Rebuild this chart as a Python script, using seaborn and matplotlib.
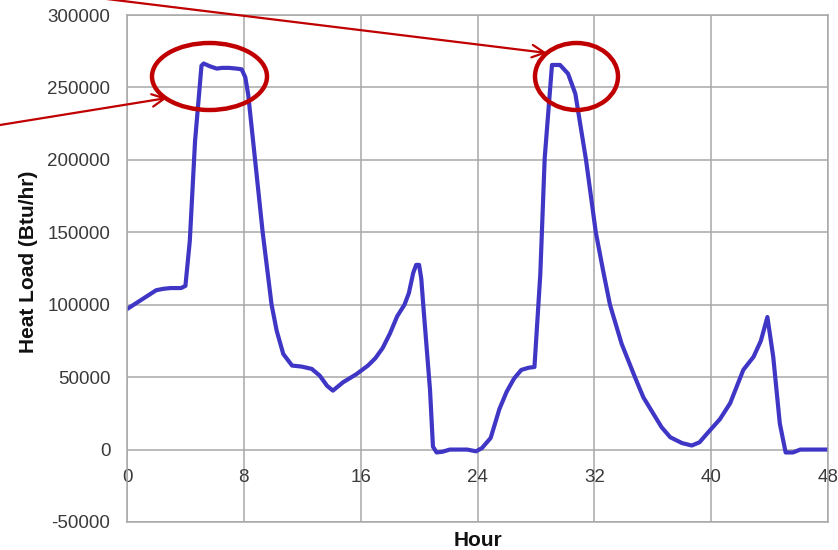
import numpy as np
import pandas as pd
import matplotlib
matplotlib.use("Agg")
import matplotlib.pyplot as plt
from matplotlib.patches import Ellipse
import seaborn as sns

# ---- data ----
hours = [0, 1, 2, 2.5, 3, 3.7, 4.0, 4.3, 4.66, 5.1, 5.25, 5.7, 6.15, 6.5, 7.0, 7.5,
         7.85, 8.1, 8.3, 8.77, 9.29, 9.9, 10.25, 10.7, 11.3, 11.95, 12.65, 13.2, 13.7,
         14.1, 14.8, 15.7, 16.5, 17.0, 17.5, 18.0, 18.5, 19.0, 19.3,
         19.6, 19.8, 20.0, 20.15, 20.3, 20.75, 20.95, 21.2, 21.6, 22.1, 23.3, 23.9, 24.3,
         24.9, 25.5, 26.0, 26.5, 27.0, 27.5, 27.9, 28.3, 28.6, 29.1, 29.65, 30.2,
         30.7, 31.43, 32.1, 32.6, 33.07, 33.87, 34.78, 35.36, 36.05, 36.6, 37.2, 38.0, 38.67,
         39.2, 39.7, 40.6, 41.3, 42.2, 42.9, 43.4, 43.85, 44.25, 44.7, 45.1, 45.6,
         46.1, 48.0]
heat_load = [97000, 103500, 110000, 111000, 111500, 111500, 113000, 144000, 213000,
             265000, 266500, 264500, 263000, 263500, 263500, 263000, 262500, 257000,
             245000, 200000, 150000, 100000, 82000, 66000, 58000, 57300, 55700, 51000,
             44000, 40700, 46500, 52000, 58000, 63000, 70000, 80000,
             92000, 100000, 108000, 122000, 127500, 127500, 118000, 98000, 41000, 2000,
             -2000, -1500, 0, 0, -1200, 1000, 8000, 28000, 40000, 49000, 55000, 56500,
             57000, 121000, 201000, 265500, 265500, 259500, 245600, 200000, 150000,
             123600, 100000, 73000, 50000, 36000, 24600, 15500, 8500, 4500, 2800, 5000, 10800,
             21000, 32000, 55000, 64000, 75000, 91500, 64000, 18000, -2000, -2000,
             0, 0]

x_ticks = [0, 8, 16, 24, 32, 40, 48]
y_ticks = [-50000, 0, 50000, 100000, 150000, 200000, 250000, 300000]
y_tick_labels = ["-50000", "0", "50000", "100000", "150000", "200000", "250000", "300000"]

df = pd.DataFrame({"Hour": hours, "Heat Load": heat_load})

sns.set_style("white")
plt.rcParams["font.family"] = ["Liberation Sans", "DejaVu Sans"]

fig = plt.figure(figsize=(8.38, 5.5), dpi=100)
ax = fig.add_axes([127 / 838, 28 / 550, 701 / 838, 507 / 550])

grid_c = "#a8a8a8"
line_c = "#3f36c6"
red_c = "#c00000"

sns.lineplot(data=df, x="Hour", y="Heat Load", ax=ax, color=line_c, linewidth=3.0,
             estimator=None, sort=False)
for l in ax.lines:
    l.set_solid_joinstyle("round")
    l.set_solid_capstyle("round")

ax.set_xlim(0, 48)
ax.set_ylim(-50000, 300000)
ax.set_xticks(x_ticks)
ax.set_xticklabels([str(v) for v in x_ticks])
ax.set_yticks(y_ticks)
ax.set_yticklabels(y_tick_labels)

ax.grid(True, color=grid_c, linewidth=1.1)
for s in ax.spines.values():
    s.set_visible(True)
    s.set_color(grid_c)
    s.set_linewidth(1.1)

ax.tick_params(axis="both", length=0, labelsize=13.5, colors="#3a3a3a")
ax.tick_params(axis="y", pad=12)
ax.tick_params(axis="x", pad=-38)

ax.set_xlabel("Hour", fontsize=15, fontweight="bold", color="#111111")
ax.set_ylabel("Heat Load (Btu/hr)", fontsize=15, fontweight="bold", color="#111111")
ax.xaxis.set_label_coords(0.5007, -0.018)
ax.yaxis.set_label_coords(-0.127, 0.513)

# ---- annotations (red ellipses and arrows) ----
px_per_h = 701 / 48
px_per_v = 507 / 350000
for cx, cy, w, h in [(209.5, 76.5, 115, 67), (576.5, 76.5, 83, 67)]:
    e = Ellipse(((cx - 127) / px_per_h, (522 - cy) / px_per_v - 50000),
                w / px_per_h, h / px_per_v, fill=False, edgecolor=red_c, linewidth=3.2,
                clip_on=False, zorder=5)
    ax.add_patch(e)

for (x0, y0), (x1, y1) in [((0, 125), (167, 98)), ((115, 0), (547, 53))]:
    ax.annotate("", xy=(x1, 550 - y1), xytext=(x0 - 10, 550 - y0 + (y1 - y0) / (x1 - x0) * 10),
                xycoords="figure pixels", textcoords="figure pixels",
                arrowprops=dict(arrowstyle="->,head_length=0.9,head_width=0.45",
                                color=red_c, linewidth=1.6, shrinkA=0, shrinkB=0),
                annotation_clip=False)

fig.savefig("out.png", dpi=100)
